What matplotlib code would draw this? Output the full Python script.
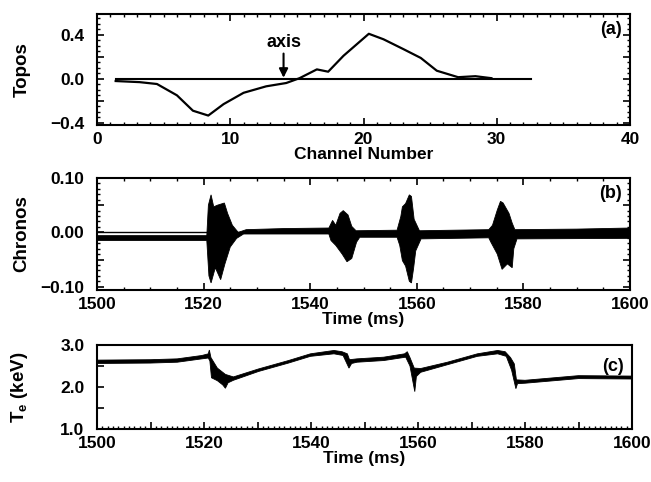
import numpy as np
import matplotlib as mpl
mpl.use('Agg')
import matplotlib.pyplot as plt
from matplotlib.ticker import MultipleLocator, FuncFormatter

FONT = ['Liberation Sans Narrow', 'Liberation Sans', 'DejaVu Sans']
mpl.rcParams.update({
    "font.family": FONT,
    "font.weight": "bold",
    "font.size": 12,
    "axes.labelweight": "bold",
    "axes.linewidth": 1.5,
    "xtick.direction": "in",
    "ytick.direction": "in",
    "xtick.top": True,
    "ytick.right": True,
    "mathtext.fontset": "custom",
    "mathtext.rm": "Liberation Sans:bold",
    "mathtext.it": "Liberation Sans:bold",
    "mathtext.bf": "Liberation Sans:bold",
})

# (a) topos
topo_ch = [1.4, 3.2, 4.5, 6.0, 7.2, 8.35, 9.5, 11.0, 12.7, 14.2, 15.2, 16.5,
           17.35, 18.5, 20.4, 21.5, 23.0, 24.3, 25.5, 27.1, 28.4, 29.6]
topo_val = [-0.02, -0.03, -0.047, -0.15, -0.29, -0.334, -0.23, -0.127, -0.068,
            -0.038, 0.006, 0.086, 0.065, 0.21, 0.41, 0.36, 0.27, 0.19, 0.074,
            0.015, 0.024, 0.006]
zero_ch = [1.4, 32.6]
axis_ch = 14.0

# (b) chronos envelope (upper / lower)
chr_up_t = [1500, 1520.6, 1520.9, 1521.4, 1521.9, 1522.6, 1523.9, 1524.5, 1525.4,
            1526.5, 1528, 1535, 1543.5, 1544.2, 1544.8, 1545.6, 1546.2, 1547.1,
            1547.8, 1548.6, 1556.3, 1557.0, 1557.3, 1557.9, 1558.6, 1559.0,
            1559.5, 1560.5, 1573.5, 1574.2, 1575.1, 1575.7, 1576.2, 1577.3,
            1577.9, 1578.4, 1590, 1600]
chr_up_v = [-0.006, -0.006, 0.05, 0.069, 0.047, 0.05, 0.054, 0.035, 0.013,
            0.0, 0.005, 0.007, 0.008, 0.022, 0.013, 0.035, 0.040, 0.032,
            0.011, 0.003, 0.004, 0.029, 0.047, 0.053, 0.069, 0.066,
            0.024, 0.003, 0.005, 0.013, 0.041, 0.057, 0.054, 0.035,
            0.017, 0.005, 0.006, 0.008]
chr_lo_t = [1500, 1520.6, 1521.0, 1521.4, 1522.2, 1523.2, 1524.0, 1525.0, 1526.2,
            1527.5, 1543.5, 1543.9, 1544.8, 1546.0, 1546.9, 1547.8, 1548.7,
            1549.3, 1556.3, 1556.8, 1557.3, 1557.9, 1558.6, 1559.0, 1559.4,
            1559.8, 1560.8, 1573.5, 1573.9, 1575.1, 1576.0, 1577.0, 1577.9,
            1578.2, 1578.8, 1600]
chr_lo_v = [-0.015, -0.015, -0.08, -0.093, -0.065, -0.087, -0.058, -0.027, -0.011,
            -0.003, -0.003, -0.015, -0.024, -0.040, -0.054, -0.048, -0.018,
            -0.009, -0.009, -0.024, -0.052, -0.062, -0.090, -0.093, -0.066,
            -0.034, -0.012, -0.010, -0.018, -0.040, -0.068, -0.058, -0.065,
            -0.030, -0.012, -0.011]

# (c) Te band (upper / lower)
te_up_t = [1500, 1510, 1515, 1519.6, 1520.8, 1521.0, 1521.3, 1522.5, 1524, 1525.5,
           1530.2, 1535.8, 1539.9, 1544.3, 1545.8, 1546.8, 1547.2, 1548.6, 1553.6,
           1557.5, 1558.0, 1558.5, 1559.3, 1560.5, 1565.5, 1571.1, 1574.9, 1576.3,
           1577.3, 1578.0, 1578.4, 1580, 1590, 1600]
te_up_v = [2.64, 2.65, 2.67, 2.75, 2.79, 2.88, 2.70, 2.45, 2.30, 2.24,
           2.43, 2.63, 2.79, 2.87, 2.84, 2.79, 2.65, 2.67, 2.71,
           2.79, 2.84, 2.70, 2.45, 2.44, 2.59, 2.79, 2.87, 2.84,
           2.70, 2.55, 2.17, 2.16, 2.27, 2.26]
te_lo_t = [1500, 1510, 1515, 1519.6, 1520.8, 1521.1, 1521.4, 1522.5, 1523.5, 1524.0,
           1524.5, 1525.5, 1530.2, 1535.8, 1539.9, 1544.3, 1546.0, 1547.1, 1547.6,
           1548.6, 1553.6, 1557.7, 1558.5, 1559.4, 1559.7, 1560.5, 1565.5, 1571.1,
           1574.9, 1576.5, 1577.5, 1578.3, 1578.6, 1580, 1590, 1600]
te_lo_v = [2.56, 2.57, 2.59, 2.67, 2.69, 2.62, 2.22, 2.15, 2.05, 1.97,
           2.10, 2.16, 2.37, 2.57, 2.73, 2.79, 2.75, 2.45, 2.56,
           2.59, 2.63, 2.71, 2.50, 1.89, 2.25, 2.35, 2.53, 2.73,
           2.79, 2.73, 2.40, 1.96, 2.08, 2.09, 2.20, 2.19]

W, H = 651, 482
fig = plt.figure(figsize=(W / 100, H / 100), dpi=100)

def box(l, r, t, b):
    return [l / W, (H - b) / H, (r - l) / W, (b - t) / H]

def style(ax):
    ax.tick_params(which='major', length=5, width=1.2, labelsize=12.5)
    ax.tick_params(which='minor', length=2.5, width=1)
    ax.tick_params(axis='y', pad=9)
    ax.tick_params(axis='x', pad=5)
    for lab in ax.get_xticklabels() + ax.get_yticklabels():
        lab.set_fontweight('bold')

def only(step, fmt):
    def f(v, pos):
        if abs(v / step - round(v / step)) < 1e-6:
            return fmt.format(v).replace('-', '\u2212')
        return ''
    return FuncFormatter(f)

# panel (a)
ax1 = fig.add_axes(box(97, 630, 14, 125))
ax1.plot(topo_ch, topo_val, color='k', lw=1.6)
ax1.plot(zero_ch, [0, 0], color='k', lw=1.5)
ax1.set_xlim(0, 40)
ax1.set_ylim(-0.42, 0.59)
ax1.xaxis.set_major_locator(MultipleLocator(10))
ax1.xaxis.set_minor_locator(MultipleLocator(1))
ax1.yaxis.set_major_locator(MultipleLocator(0.2))
ax1.yaxis.set_minor_locator(MultipleLocator(0.05))
ax1.yaxis.set_major_formatter(only(0.4, '{:.1f}'))
ax1.set_xlabel('Channel Number', fontsize=12.5, labelpad=0)
ax1.set_ylabel('Topos', fontsize=13.5)
ax1.text(axis_ch, 0.33, 'axis', ha='center', va='center', fontsize=13,
         fontweight='bold')
ax1.annotate('', xy=(axis_ch, 0.01), xytext=(axis_ch, 0.23),
             arrowprops=dict(arrowstyle='-|>', color='k', lw=1.5,
                             shrinkA=0, shrinkB=0, mutation_scale=13))
ax1.text(0.985, 0.86, '(a)', transform=ax1.transAxes, ha='right',
         va='center', fontsize=13, fontweight='bold')
style(ax1)

# panel (b)
ax2 = fig.add_axes(box(97, 630, 178, 290))
ax2.axhline(0, color='k', lw=1.0)
ax2.fill(chr_up_t + chr_lo_t[::-1], chr_up_v + chr_lo_v[::-1],
         color='k', lw=0.6, ec='k')
ax2.set_xlim(1500, 1600)
ax2.set_ylim(-0.106, 0.1)
ax2.xaxis.set_major_locator(MultipleLocator(20))
ax2.xaxis.set_minor_locator(MultipleLocator(5))
ax2.yaxis.set_major_locator(MultipleLocator(0.05))
ax2.yaxis.set_minor_locator(MultipleLocator(0.01))
ax2.yaxis.set_major_formatter(only(0.1, '{:.2f}'))
ax2.set_xlabel('Time (ms)', fontsize=12.5, labelpad=0)
ax2.set_ylabel('Chronos', fontsize=13.5)
ax2.text(0.985, 0.86, '(b)', transform=ax2.transAxes, ha='right',
         va='center', fontsize=13, fontweight='bold')
style(ax2)

# panel (c)
ax3 = fig.add_axes(box(97, 632, 345, 429))
ax3.fill(te_up_t + te_lo_t[::-1], te_up_v + te_lo_v[::-1],
         color='k', lw=0.6, ec='k')
ax3.set_xlim(1500, 1600)
ax3.set_ylim(1.0, 3.0)
ax3.xaxis.set_major_locator(MultipleLocator(10))
ax3.xaxis.set_major_formatter(only(20, '{:.0f}'))
ax3.xaxis.set_minor_locator(MultipleLocator(1))
ax3.yaxis.set_major_locator(MultipleLocator(0.5))
ax3.yaxis.set_major_formatter(only(1.0, '{:.1f}'))
ax3.set_xlabel('Time (ms)', fontsize=12.5, labelpad=0)
ax3.set_ylabel(r'T$_\mathrm{e}$ (keV)', fontsize=13.5)
ax3.text(0.985, 0.74, '(c)', transform=ax3.transAxes, ha='right',
         va='center', fontsize=13, fontweight='bold')
style(ax3)
ax3.tick_params(top=False, right=False, which='both')

for ax in (ax1, ax2, ax3):
    ax.yaxis.set_label_coords(-0.125, 0.5)

fig.savefig('out.png', dpi=100)
